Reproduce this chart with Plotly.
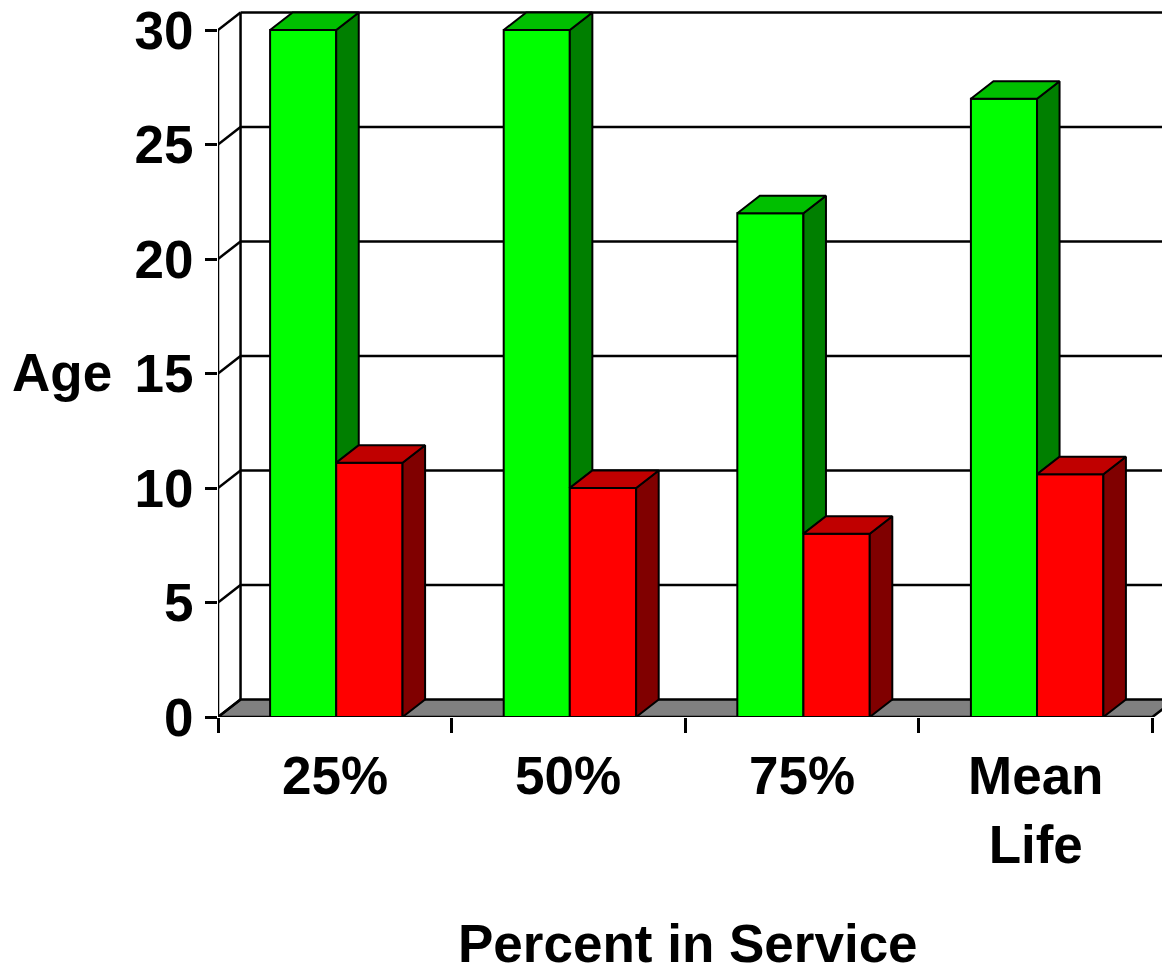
import plotly.graph_objects as go

categories = ["25%", "50%", "75%", "Mean<br>Life"]
green_vals = [30, 30, 22, 27]
red_vals = [11.1, 10, 8, 10.6]
y_ticks = [0, 5, 10, 15, 20, 25, 30]

# 3D depth offsets (data units)
DX = 0.0965
DY = 0.765
XMAX = 4.041
YMAX = 31.31

G_OFF, G_W = -0.277, 0.283
R_OFF, R_W = 0.006, 0.284

PLOT_L, PLOT_W, PLOT_H = 218, 944, 717

FONT = dict(family="Liberation Sans, Arial, sans-serif", size=53, color="black", weight="bold")

centers = [i + 0.5 for i in range(len(categories))]

fig = go.Figure()

def poly_trace(polys, fill):
    xs, ys = [], []
    for p in polys:
        for (a, b) in p + [p[0]]:
            xs.append(a); ys.append(b)
        xs.append(None); ys.append(None)
    return go.Scatter(x=xs, y=ys, mode="lines", fill="toself", fillcolor=fill,
                      line=dict(color="black", width=2), hoverinfo="skip", showlegend=False)

g_side, g_top, r_side, r_top = [], [], [], []
for c, g, r in zip(centers, green_vals, red_vals):
    gl = c + G_OFF; gr = gl + G_W
    rl = c + R_OFF; rr = rl + R_W
    g_side.append([(gr, r), (gr, g), (gr + DX, g + DY), (gr + DX, r + DY)])
    g_top.append([(gl, g), (gr, g), (gr + DX, g + DY), (gl + DX, g + DY)])
    r_side.append([(rr, 0), (rr, r), (rr + DX, r + DY), (rr + DX, DY)])
    r_top.append([(rl, r), (rr, r), (rr + DX, r + DY), (rl + DX, r + DY)])

fig.add_trace(poly_trace(g_side, "#007F00"))
fig.add_trace(poly_trace(g_top, "#00BF00"))
fig.add_trace(go.Bar(x=centers, y=green_vals, width=G_W, offset=G_OFF,
                     marker=dict(color="#00FF00", line=dict(color="black", width=2)),
                     hoverinfo="skip", showlegend=False))
fig.add_trace(poly_trace(r_side, "#800000"))
fig.add_trace(poly_trace(r_top, "#C00000"))
fig.add_trace(go.Bar(x=centers, y=red_vals, width=R_W, offset=R_OFF,
                     marker=dict(color="#FF0000", line=dict(color="black", width=2)),
                     hoverinfo="skip", showlegend=False))

shapes = []
shapes.append(dict(type="path", xref="x", yref="y", layer="below",
                   path=f"M 0 0 L 4 0 L {4+DX} {DY} L {DX} {DY} Z",
                   fillcolor="#808080", line=dict(color="black", width=2.5)))
for v in y_ticks:
    if v > 0:
        shapes.append(dict(type="line", xref="x", yref="y", layer="below",
                           x0=DX, y0=v + DY, x1=XMAX, y1=v + DY,
                           line=dict(color="black", width=2.5)))
    shapes.append(dict(type="line", xref="x", yref="y", layer="below",
                       x0=0, y0=v, x1=DX, y1=v + DY,
                       line=dict(color="black", width=2.5)))
shapes.append(dict(type="line", xref="x", yref="y", layer="below",
                   x0=DX, y0=DY, x1=DX, y1=30 + DY, line=dict(color="black", width=2.5)))
shapes.append(dict(type="line", xref="x", yref="y", layer="below",
                   x0=0, y0=0, x1=0, y1=30, line=dict(color="black", width=2.5)))
fig.update_layout(shapes=shapes)

def px_x(p):
    return (p - PLOT_L) / PLOT_W

def px_y(p):
    return (PLOT_H - p) / PLOT_H

annotations = []
for c, lab in zip(centers, categories):
    annotations.append(dict(x=c, y=px_y(744), xref="x", yref="paper", text=lab, showarrow=False,
                            xanchor="center", yanchor="top", font=FONT))
annotations.append(dict(x=px_x(62), y=px_y(372), xref="paper", yref="paper", text="Age",
                        showarrow=False, xanchor="center", yanchor="middle", font=FONT))
annotations.append(dict(x=px_x(688), y=px_y(943), xref="paper", yref="paper",
                        text="Percent in Service", showarrow=False,
                        xanchor="center", yanchor="middle", font=FONT))
fig.update_layout(annotations=annotations)

fig.update_layout(
    width=1162, height=974,
    margin=dict(l=PLOT_L, r=0, t=0, b=974 - PLOT_H),
    paper_bgcolor="white", plot_bgcolor="white",
    barmode="overlay",
    xaxis=dict(range=[0, XMAX], showgrid=False, zeroline=False, showline=False,
               tickvals=[0, 1, 2, 3, 4], ticks="outside", ticklen=15, tickwidth=2.5,
               tickcolor="black", showticklabels=False, fixedrange=True),
    yaxis=dict(range=[0, YMAX], showgrid=False, zeroline=False, showline=False,
               tickvals=y_ticks, ticks="outside", ticklen=12, tickwidth=2.5,
               tickcolor="black", tickfont=FONT, ticklabelstandoff=1, fixedrange=True),
)

fig.write_html("out.html")
